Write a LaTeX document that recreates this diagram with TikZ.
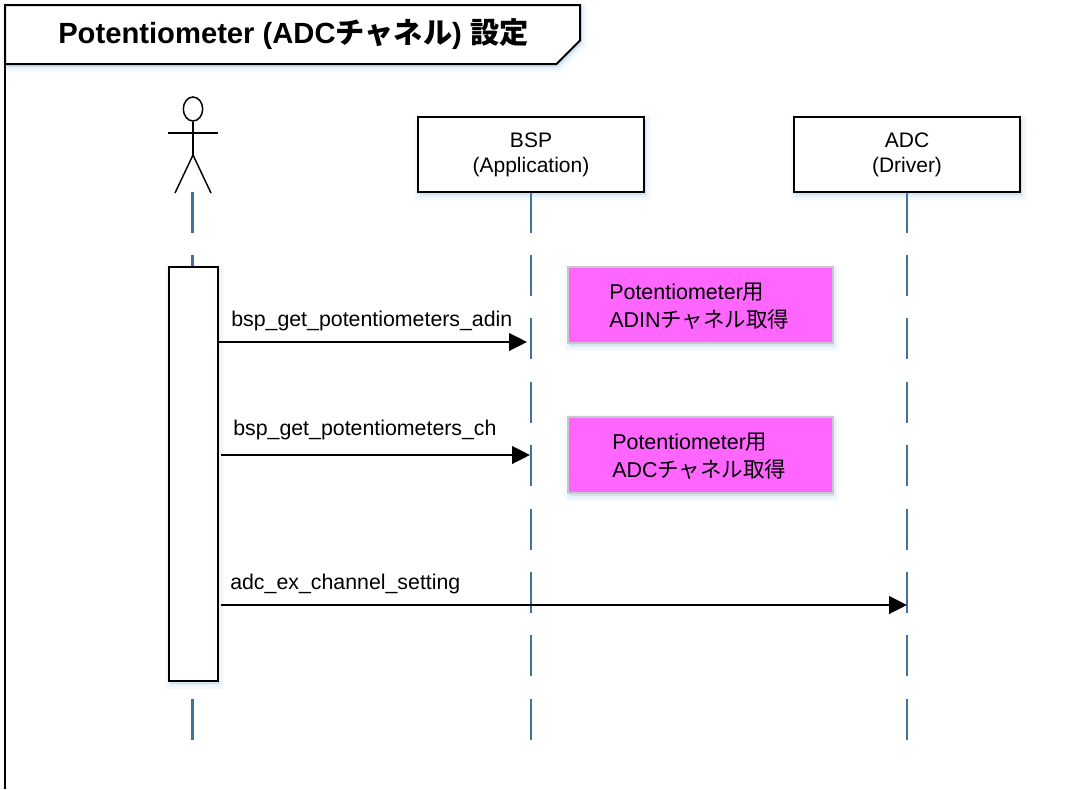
\documentclass[tikz,border=0pt]{standalone}
\usepackage{fontspec}
\setmainfont{Liberation Sans}
\newfontfamily\cjk{Noto Sans CJK JP}
\usetikzlibrary{arrows.meta,shapes.geometric}
\definecolor{life}{HTML}{41719C}
\definecolor{pinkbox}{HTML}{FF66FF}
\definecolor{pinkedge}{HTML}{C8C8C8}
\definecolor{softblue}{HTML}{5B9BD5}
\tikzset{
  softshadow/.style={
    preaction={draw=softblue,draw opacity=.05,fill=softblue,fill opacity=.05,line width=7.5pt,transform canvas={shift={(1.2pt,-2.2pt)}}},
    preaction={draw=softblue,draw opacity=.05,fill=softblue,fill opacity=.05,line width=4.5pt,transform canvas={shift={(1.2pt,-2.2pt)}}},
    preaction={draw=softblue,draw opacity=.06,fill=softblue,fill opacity=.06,line width=2pt,transform canvas={shift={(1.2pt,-2.2pt)}}}},
  framebox/.style={draw=black,fill=white,line width=1.5pt,miter limit=10,softshadow},
  headbox/.style={framebox,minimum width=169.5pt,minimum height=56.5pt,inner sep=0pt,align=center,font=\fontsize{15.75pt}{19pt}\selectfont},
  notebox/.style={draw=pinkedge,fill=pinkbox,line width=1.5pt,minimum width=198.5pt,minimum height=57pt,inner sep=0pt,softshadow},
  notetext/.style={inner sep=0pt,anchor=west,align=left,font=\fontsize{16.1pt}{21pt}\selectfont},
  lifeline/.style={draw=life,line width=1.8pt,dash pattern=on 30.8pt off 16.75pt},
  msg/.style={draw=black,line width=1.8pt,-{Triangle[length=13.5pt,width=13.2pt]}},
  msglabel/.style={inner sep=0pt,anchor=base west,font=\fontsize{16pt}{18pt}\selectfont},
  stick/.style={draw=black,line width=1.1pt}
}
\begin{document}
\begin{tikzpicture}[x=.75pt,y=-.75pt]
\useasboundingbox (0,0) rectangle (1085,789);
% frame
\draw[black,line width=1.5pt] (5,64) -- (5,789);
\draw[framebox] (5,5) -- (580,5) -- (580,40.5) -- (556.5,64) -- (5,64) -- cycle;
\node[inner sep=0pt,anchor=base west,font=\fontsize{21.9pt}{26pt}\selectfont\bfseries] (title) at (58,43) {Potentiometer (ADC{\cjk チャネル}) {\cjk 設定}};
% lifeline ends
\coordinate (actorTop) at (192.5,191.5);
\coordinate (actorEnd) at (192.5,741);
\coordinate (bspTop) at (531,191.5);
\coordinate (bspEnd) at (531,741);
\coordinate (adcTop) at (907,191.5);
\coordinate (adcEnd) at (907,741);
\draw[lifeline] (actorTop) -- (actorEnd);
\draw[lifeline] (bspTop) -- (bspEnd);
\draw[lifeline] (adcTop) -- (adcEnd);
\node[headbox] (bsp) at (531,154.8) {\raisebox{-1.5pt}{BSP}\\\raisebox{-1.5pt}{(Application)}};
\node[headbox] (adc) at (907,154.8) {\raisebox{-1.5pt}{ADC}\\\raisebox{-1.5pt}{(Driver)}};
% actor
\node[draw=black,fill=white,line width=1.1pt,ellipse,minimum width=14.5pt,minimum height=18pt,inner sep=0pt] (head) at (193,109) {};
\coordinate (hip) at (193,155);
\coordinate (armL) at (168,133);
\coordinate (armR) at (218,133);
\coordinate (legL) at (175,193);
\coordinate (legR) at (211,193);
\draw[stick] (head.south) -- (hip);
\draw[stick] (armL) -- (armR);
\draw[stick] (legL) -- (hip) -- (legR);
% activation
\node[framebox,minimum width=36.75pt,minimum height=310.5pt,inner sep=0pt] (act) at (193,474) {};
% notes
\node[notebox] (n1) at (700.5,305) {};
\node[notetext] (t1) at (609,306) {Potentiometer{\cjk 用}\\ADIN{\cjk チャネル取得}};
\node[notebox] (n2) at (700.5,455) {};
\node[notetext] (t2) at (612,456.5) {Potentiometer{\cjk 用}\\ADC{\cjk チャネル取得}};
% messages
\coordinate (s1) at (act.east |- 0,342);
\coordinate (e1) at (527,342);
\coordinate (s2) at (221,455);
\coordinate (e2) at (530,455);
\coordinate (s3) at (221,605);
\coordinate (e3) at (907,605);
\draw[msg] (s1) -- (e1);
\draw[msg] (s2) -- (e2);
\draw[msg] (s3) -- (e3);
\node[msglabel] (l1) at (231,326) {bsp\_get\_potentiometers\_adin};
\node[msglabel] (l2) at (233,435) {bsp\_get\_potentiometers\_ch};
\node[msglabel] (l3) at (230,589) {adc\_ex\_channel\_setting};
\end{tikzpicture}
\end{document}
